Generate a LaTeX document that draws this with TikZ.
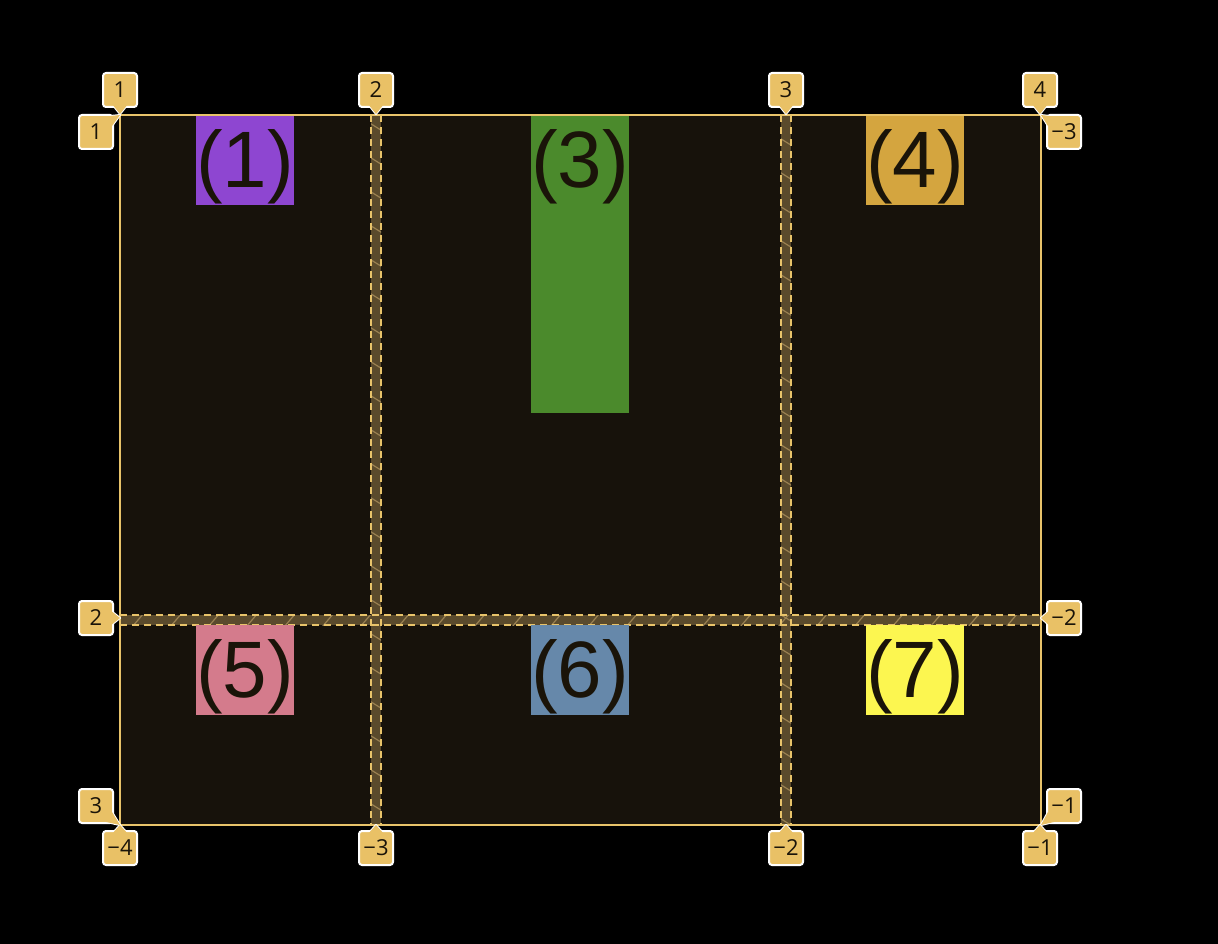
\documentclass[tikz,border=0pt]{standalone}
\usepackage{fontspec}
\setmainfont{Liberation Sans}
\newfontfamily\badgefont{Open Sans}
\usetikzlibrary{positioning}
\definecolor{gridbg}{HTML}{17120B}
\definecolor{gridline}{HTML}{E8C36A}
\definecolor{gutterfill}{HTML}{5A4A2C}
\definecolor{gutterline}{HTML}{9A8152}
\definecolor{badgegold}{HTML}{E9C166}
\definecolor{itemtext}{HTML}{1A1409}
\definecolor{cellpurple}{HTML}{8E46D1}
\definecolor{cellgreen}{HTML}{4B8A2C}
\definecolor{cellgold}{HTML}{D4A53F}
\definecolor{cellpink}{HTML}{D47B8C}
\definecolor{cellblue}{HTML}{6688AA}
\definecolor{cellyellow}{HTML}{FCF650}

\begin{document}
\begin{tikzpicture}[x=1pt,y=-1pt,
    cell/.style={rectangle,inner sep=0pt,minimum width=98pt,minimum height=90pt,
      text height=67pt,text depth=13pt,anchor=north west,text=itemtext,
      font=\fontsize{80}{96}\selectfont},
    badge/.style={rectangle,draw=white,line width=2pt,fill=badgegold,rounded corners=3pt,
      inner sep=0pt,minimum size=34pt,text=itemtext,font=\badgefont\fontsize{22}{26}\selectfont},
    gutter/.style={fill=gutterfill},
    gutteredge/.style={draw=gridline,line width=1.2pt,dash pattern=on 7pt off 5pt}]

  % canvas
  \fill[black] (0,0) rectangle (1218,944);
  \useasboundingbox (0,0) rectangle (1218,944);

  % grid area
  \fill[gridbg] (120,115) rectangle (1041,825);

  % gutters
  \fill[gutter] (371,115) rectangle (381,825);
  \fill[gutter] (781,115) rectangle (791,825);
  \fill[gutter] (120,615) rectangle (1041,625);
  \begin{scope}
    \clip (371,115) rectangle (381,825) (781,115) rectangle (791,825);
    \foreach \y in {122,156,...,830}{
      \draw[gutterline,line width=1.2pt] (368,\y) -- (384,\y+10);
      \draw[gutterline,line width=1.2pt] (778,\y+15) -- (794,\y+25);
    }
  \end{scope}
  \begin{scope}
    \clip (120,615) rectangle (1041,625);
    \foreach \x in {132,170,...,1050}
      \draw[gutterline,line width=1.2pt] (\x,627) -- (\x+12,613);
  \end{scope}
  \draw[gutteredge] (371,115) -- (371,825) (381,115) -- (381,825);
  \draw[gutteredge] (781,115) -- (781,825) (791,115) -- (791,825);
  \draw[gutteredge] (120,615) -- (1041,615) (120,625) -- (1041,625);

  % items
  \node[cell,fill=cellpurple] (item1) at (196,115) {(1)};
  \node[cell,fill=cellgreen,minimum height=298pt,text depth=221pt] (item3) at (531,115) {(3)};
  \node[cell,fill=cellgold] (item4) at (866,115) {(4)};
  \node[cell,fill=cellpink] (item5) at (196,625) {(5)};
  \node[cell,fill=cellblue] (item6) at (531,625) {(6)};
  \node[cell,fill=cellyellow] (item7) at (866,625) {(7)};

  % grid outline
  \draw[gridline,line width=1.5pt] (120,115) rectangle (1041,825);

  % badge pointers (outlined)
  \foreach \tx/\ty/\ax/\ay/\bx/\by in {
      120/114/112/104/128/104, 376/114/368/104/384/104, 786/114/778/104/794/104, 1040/114/1032/104/1048/104,
      120/825/112/834/128/834, 376/825/368/834/384/834, 786/825/778/834/794/834, 1040/825/1032/834/1048/834,
      120/618/110/610/110/626, 1041/618/1050/610/1050/626,
      120/115/102/117/112/126, 120/825/102/821/112/812,
      1041/115/1058/117/1048/126, 1041/825/1058/821/1048/812}
    \filldraw[fill=badgegold,draw=white,line width=2pt,line join=round]
      (\tx,\ty) -- (\ax,\ay) -- (\bx,\by) -- cycle;

  % line numbers
  \node[badge] (top1) at (120,90) {1};
  \node[badge] (top2) at (376,90) {2};
  \node[badge] (top3) at (786,90) {3};
  \node[badge] (top4) at (1040,90) {4};
  \node[badge] (bot4) at (120,848) {−4};
  \node[badge] (bot3) at (376,848) {−3};
  \node[badge] (bot2) at (786,848) {−2};
  \node[badge] (bot1) at (1040,848) {−1};
  \node[badge] (left1) at (96,132) {1};
  \node[badge] (left2) at (96,618) {2};
  \node[badge] (left3) at (96,806) {3};
  \node[badge] (right3) at (1064,132) {−3};
  \node[badge] (right2) at (1064,618) {−2};
  \node[badge] (right1) at (1064,806) {−1};

  % badge pointers (fill over the badge border)
  \foreach \tx/\ty/\ax/\ay/\bx/\by in {
      120/114/112/104/128/104, 376/114/368/104/384/104, 786/114/778/104/794/104, 1040/114/1032/104/1048/104,
      120/825/112/834/128/834, 376/825/368/834/384/834, 786/825/778/834/794/834, 1040/825/1032/834/1048/834,
      120/618/110/610/110/626, 1041/618/1050/610/1050/626,
      120/115/102/117/112/126, 120/825/102/821/112/812,
      1041/115/1058/117/1048/126, 1041/825/1058/821/1048/812}
    \fill[badgegold] (\tx,\ty) -- (\ax,\ay) -- (\bx,\by) -- cycle;
\end{tikzpicture}
\end{document}
